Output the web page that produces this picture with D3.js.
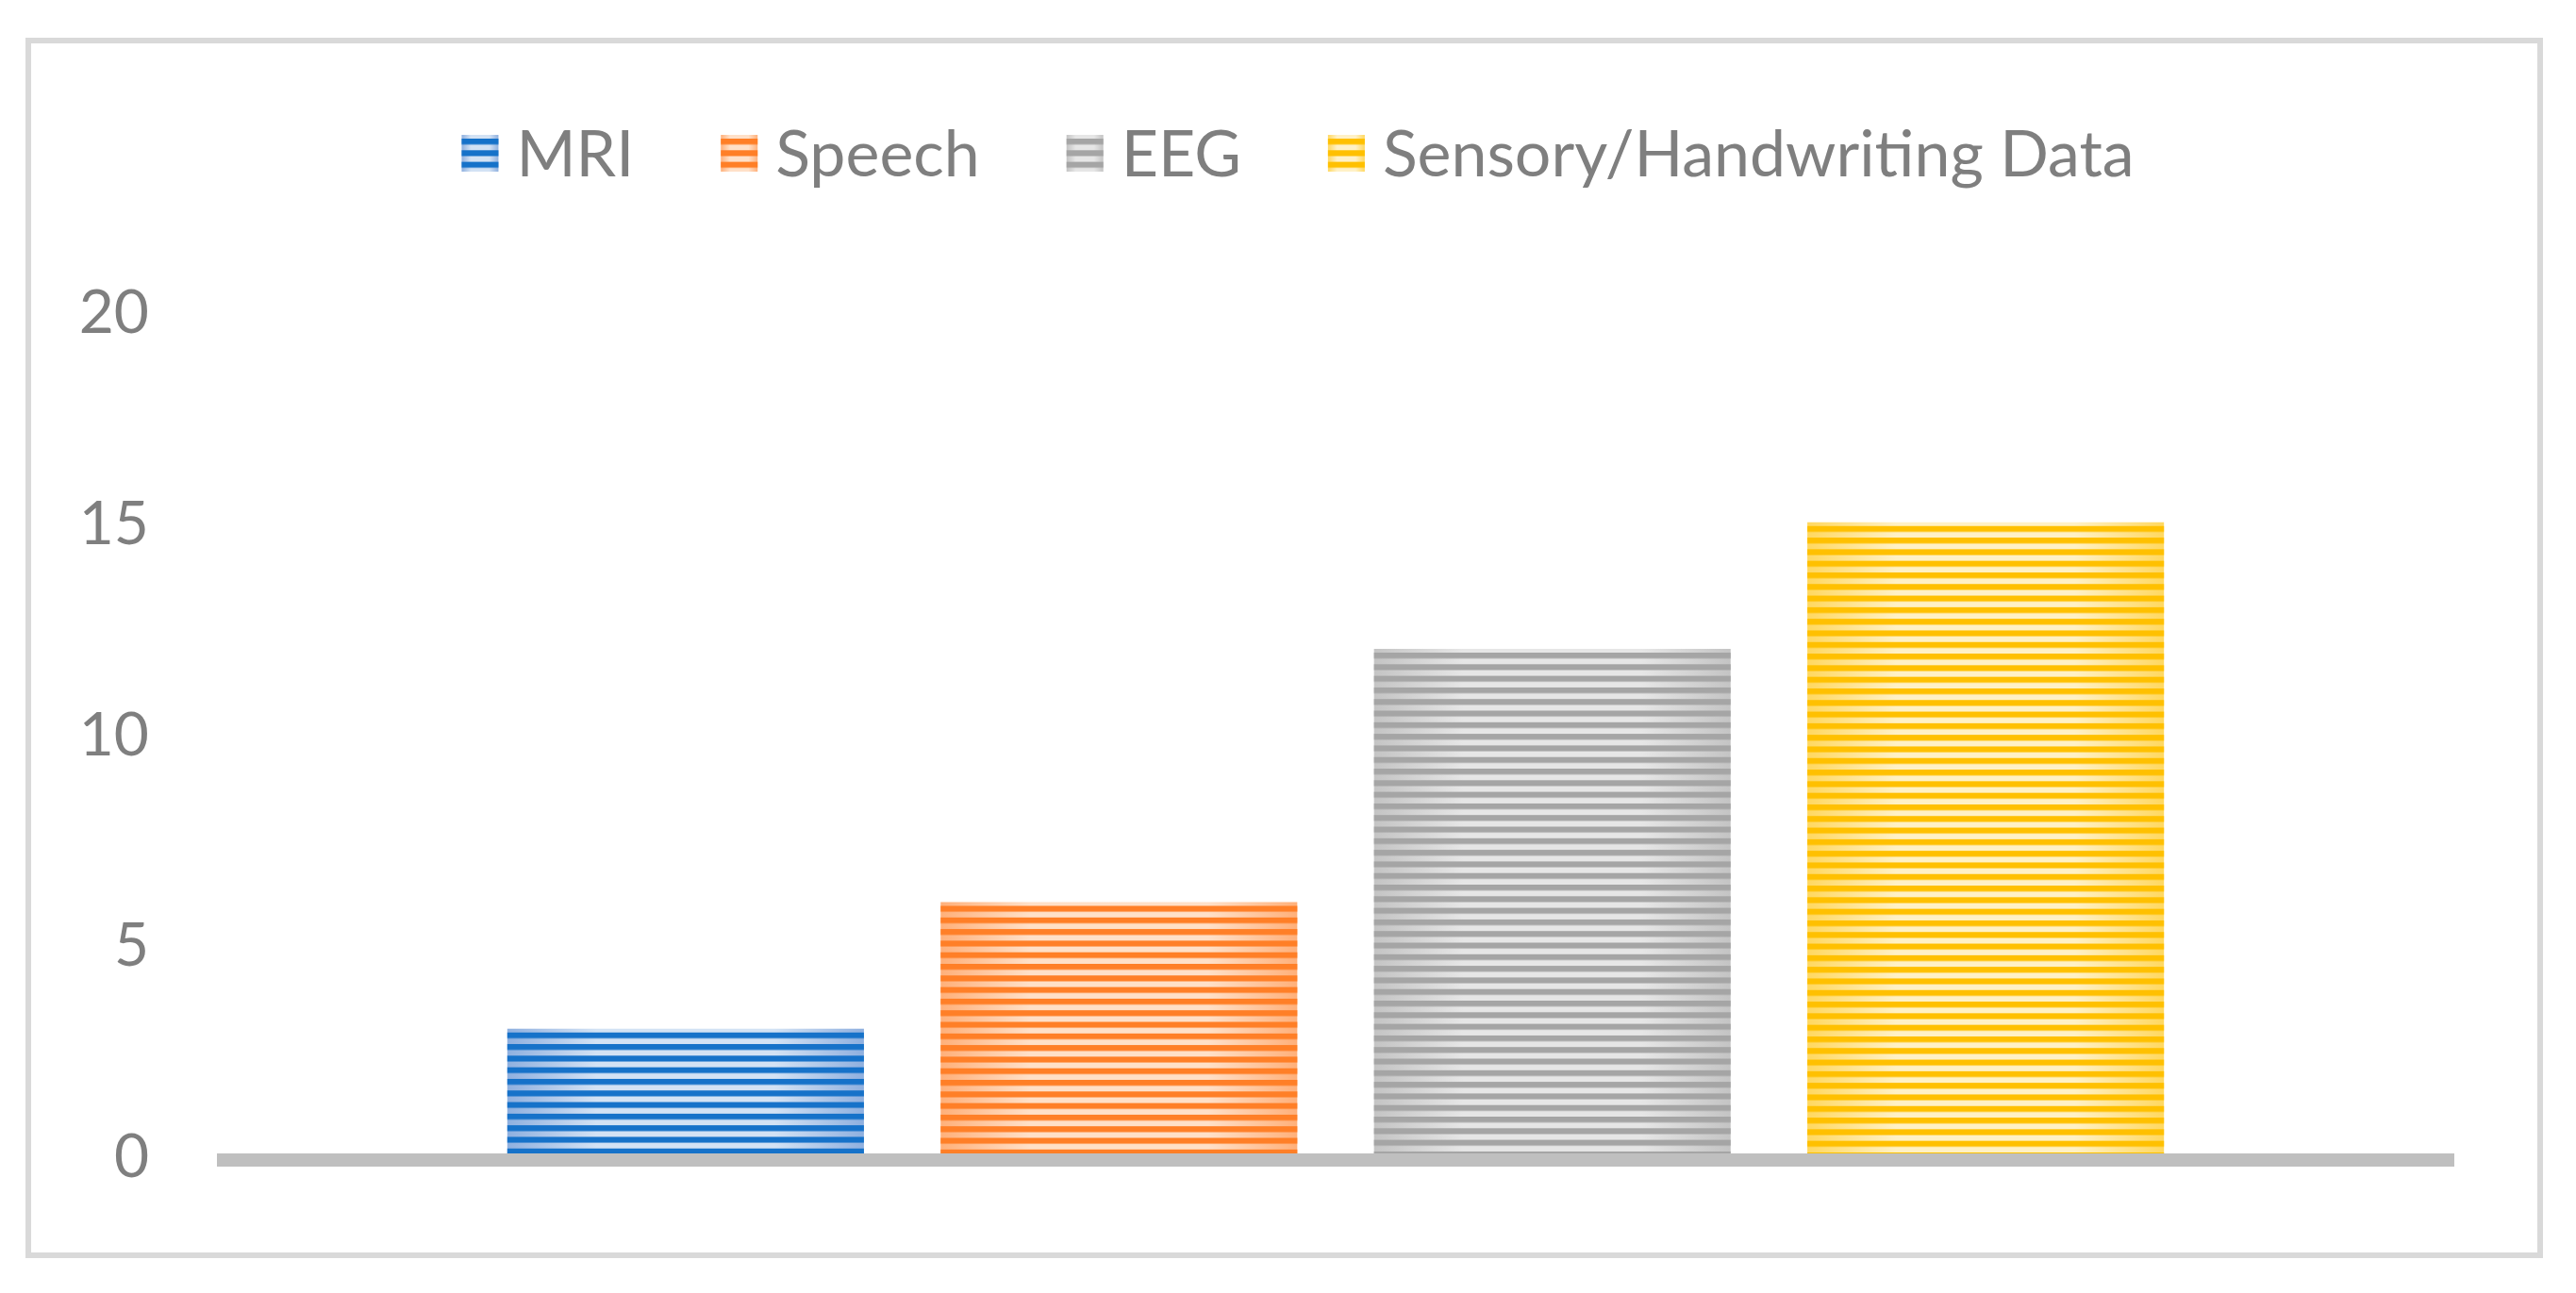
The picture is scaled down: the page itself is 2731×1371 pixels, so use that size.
<!DOCTYPE html>
<html>
<head>
<meta charset="utf-8">
<script src="https://cdn.jsdelivr.net/npm/d3@7"></script>
<style>
  body { margin: 0; background: #fff; }
  text { font-family: Lato, "Open Sans", sans-serif; fill: #7f7f7f; }
</style>
</head>
<body>
<svg></svg>
<script>
// Series data (one category, four series)
const seriesNames = ["MRI", "Speech", "EEG", "Sensory/Handwriting Data"];
const seriesValues = [3, 6, 12, 15];
const yTicks = [0, 5, 10, 15, 20];

// Colours: stripe colour, light tint at centre, tint at edges
const darkColors = ["#1672c9", "#ff7f27", "#a5a5a5", "#ffc000"];
const lightCenter = ["#d3e2f4", "#ffe0c8", "#e6e6e6", "#fff1c6"];
const lightEdge = ["#8fb0df", "#ffb07a", "#c4c4c4", "#ffd860"];

const W = 2731, H = 1371;
const svg = d3.select("svg").attr("width", W).attr("height", H);

svg.append("rect").attr("width", W).attr("height", H).attr("fill", "#fff");

// Outer frame
svg.append("rect")
  .attr("x", 30).attr("y", 43)
  .attr("width", 2663).attr("height", 1288)
  .attr("fill", "none")
  .attr("stroke", "#d9d9d9")
  .attr("stroke-width", 6);

// Scales
const x = d3.scaleBand()
  .domain(seriesNames)
  .range([230, 2602])
  .paddingInner(0.177)
  .paddingOuter(0.67);

const y = d3.scaleLinear()
  .domain([0, 20])
  .range([1225, 330]);

const defs = svg.append("defs");
const period = 12.3;

// Horizontal gradient for the light stripes + stripe patterns
function makeFills(i, key, y0) {
  const g = defs.append("linearGradient")
    .attr("id", `grad-${key}-${i}`)
    .attr("x1", 0).attr("x2", 1).attr("y1", 0).attr("y2", 0);
  g.append("stop").attr("offset", "0%").attr("stop-color", lightEdge[i]);
  g.append("stop").attr("offset", "25%").attr("stop-color", lightCenter[i]);
  g.append("stop").attr("offset", "75%").attr("stop-color", lightCenter[i]);
  g.append("stop").attr("offset", "100%").attr("stop-color", lightEdge[i]);

  const p = defs.append("pattern")
    .attr("id", `stripe-${key}-${i}`)
    .attr("patternUnits", "userSpaceOnUse")
    .attr("x", 0).attr("y", y0)
    .attr("width", 20).attr("height", period);
  p.append("rect")
    .attr("x", 0).attr("y", 0)
    .attr("width", 20).attr("height", 6.2)
    .attr("fill", darkColors[i]);
}

seriesNames.forEach((name, i) => makeFills(i, "bar", y(seriesValues[i]) + 4));

// Y tick labels
svg.append("g")
  .selectAll("text")
  .data(yTicks)
  .join("text")
  .attr("x", 158)
  .attr("y", d => y(d))
  .attr("dy", "0.36em")
  .attr("text-anchor", "end")
  .style("font-size", "64px")
  .text(d => d);

// Bars: gradient base + stripe overlay
const bars = svg.append("g")
  .selectAll("g")
  .data(seriesNames)
  .join("g");

bars.append("rect")
  .attr("x", d => x(d))
  .attr("y", (d, i) => y(seriesValues[i]))
  .attr("width", x.bandwidth())
  .attr("height", (d, i) => y(0) - y(seriesValues[i]))
  .attr("fill", (d, i) => `url(#grad-bar-${i})`);

bars.append("rect")
  .attr("x", d => x(d))
  .attr("y", (d, i) => y(seriesValues[i]))
  .attr("width", x.bandwidth())
  .attr("height", (d, i) => y(0) - y(seriesValues[i]))
  .attr("fill", (d, i) => `url(#stripe-bar-${i})`);

// Category axis line
svg.append("rect")
  .attr("x", 230).attr("y", y(0) - 2)
  .attr("width", 2372).attr("height", 14)
  .attr("fill", "#bfbfbf");

// Legend
const sw = 39, gapText = 19, gapItem = 92, legendCenter = 1376, legendY = 143;
const legend = svg.append("g");
const items = legend.selectAll("g")
  .data(seriesNames)
  .join("g");

items.append("text")
  .attr("x", sw + gapText)
  .attr("y", sw / 2)
  .attr("dy", "0.36em")
  .style("font-size", "68px")
  .text(d => d);

const widths = [];
items.select("text").each(function () { widths.push(this.getComputedTextLength()); });
const total = d3.sum(widths) + seriesNames.length * (sw + gapText) + (seriesNames.length - 1) * gapItem;
let cx = legendCenter - total / 2;
const offsets = widths.map(w => { const o = cx; cx += sw + gapText + w + gapItem; return o; });

seriesNames.forEach((name, i) => makeFills(i, "leg", legendY + 4));

items.attr("transform", (d, i) => `translate(${offsets[i]},${legendY})`);

items.append("rect")
  .attr("width", sw).attr("height", sw)
  .attr("fill", (d, i) => `url(#grad-leg-${i})`);
items.append("rect")
  .attr("width", sw).attr("height", sw)
  .attr("transform", `translate(0,${-legendY})`)
  .attr("y", legendY)
  .attr("fill", (d, i) => `url(#stripe-leg-${i})`);
</script>
</body>
</html>
